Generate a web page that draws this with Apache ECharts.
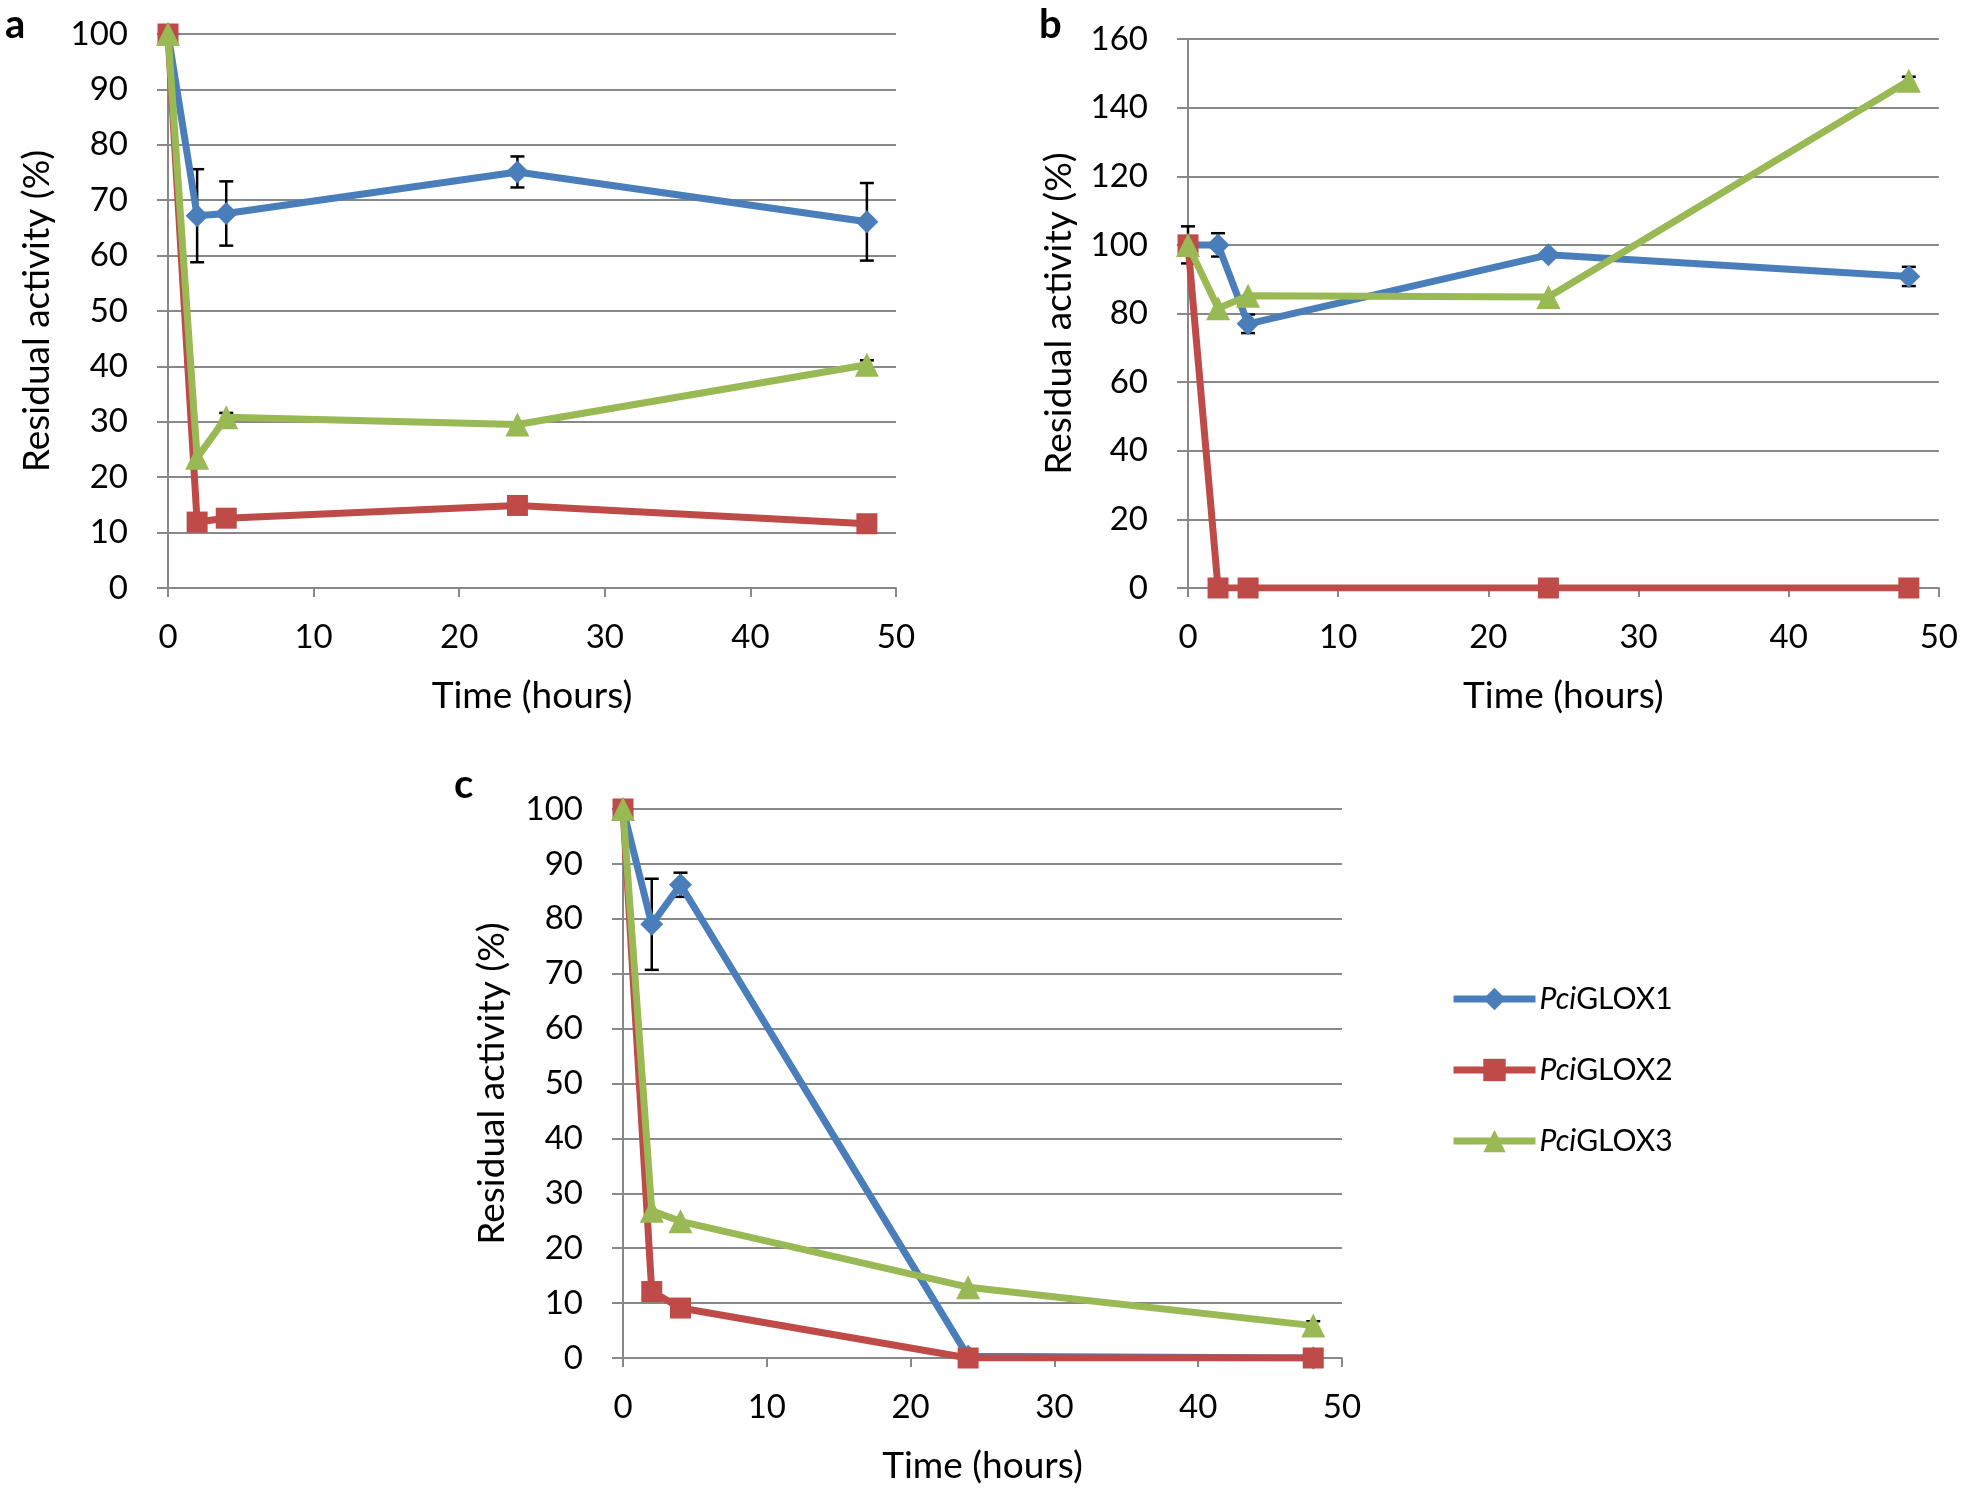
<!DOCTYPE html>
<html>
<head>
<meta charset="utf-8">
<script src="https://cdn.jsdelivr.net/npm/echarts@6/dist/echarts.min.js"></script>
<style>
html,body{margin:0;padding:0;background:#fff;}
#chart{width:1961px;height:1491px;}
</style>
</head>
<body>
<div id="chart"></div>
<script>
// ---- Data ----
const times = [0, 2, 4, 24, 48];
const seriesNames = ['PciGLOX1', 'PciGLOX2', 'PciGLOX3'];

// Panel a
const a_glox1 = [100, 67.2, 67.6, 75.1, 66.1];
const a_glox2 = [100, 11.9, 12.6, 14.9, 11.6];
const a_glox3 = [100, 23.5, 30.8, 29.5, 40.3];
const a_err1 = [0, 8.4, 5.8, 2.8, 7.0];
const a_err3 = [0, 1.0, 0.8, 0, 0.8];

// Panel b
const b_glox1 = [100, 100, 77, 97.1, 90.8];
const b_glox2 = [100, 0, 0, 0, 0];
const b_glox3 = [100, 81.5, 85.2, 84.8, 147.8];
const b_err1 = [5.4, 3.4, 2.7, 0, 2.8];
const b_err3 = [0, 0, 0, 0, 1.2];

// Panel c
const c_glox1 = [100, 79, 86.2, 0.3, 0];
const c_glox2 = [100, 12.1, 9.1, 0, 0];
const c_glox3 = [100, 26.8, 24.9, 12.9, 5.9];
const c_err1 = [0, 8.3, 2.2, 0, 0];
const c_err3 = [0, 0, 0, 0, 0.8];

// axis settings
const yMaxA = 100, yStepA = 10;
const yMaxB = 160, yStepB = 20;
const yMaxC = 100, yStepC = 10;
const xMax = 50, xStep = 10;

// ---- Styling ----
const COLORS = ['#4A7EBB', '#BE4B48', '#98B954'];
const SYMBOLS = ['diamond', 'rect', 'triangle'];
const SYMSIZE = [23, 21, 24];
const FONT = 'Lato, "Open Sans", sans-serif';
const GREY = '#888888';

const grids = [
  {left: 168, top: 34, width: 728, height: 554},
  {left: 1188, top: 39, width: 752, height: 549},
  {left: 623, top: 809, width: 719, height: 549}
];

function xAxisFor(i){
  return {
    type: 'value', gridIndex: i, min: 0, max: xMax, interval: xStep,
    name: 'Time (hours)', nameLocation: 'middle', nameGap: 90,
    nameTextStyle: {fontFamily: FONT, fontSize: 37, color: '#000'},
    axisLine: {show: true, onZero: false, lineStyle: {color: GREY, width: 2}},
    axisTick: {show: true, inside: false, length: 9, lineStyle: {color: GREY, width: 2}},
    axisLabel: {fontFamily: FONT, fontSize: 33, color: '#000', margin: 33},
    splitLine: {show: false}
  };
}
function yAxisFor(i, max, step, gap){
  return {
    type: 'value', gridIndex: i, min: 0, max: max, interval: step,
    name: 'Residual activity (%)', nameLocation: 'middle', nameGap: gap,
    nameTextStyle: {fontFamily: FONT, fontSize: 37, color: '#000'},
    axisLine: {show: true, lineStyle: {color: GREY, width: 2}},
    axisTick: {show: true, inside: false, length: 11, lineStyle: {color: GREY, width: 2}},
    axisLabel: {fontFamily: FONT, fontSize: 33, color: '#000', margin: 40},
    splitLine: {show: true, lineStyle: {color: GREY, width: 2}}
  };
}

function lineSeries(k, gi, vals){
  return {
    name: seriesNames[k], type: 'line', xAxisIndex: gi, yAxisIndex: gi,
    data: times.map((t, j) => [t, vals[j]]),
    symbol: SYMBOLS[k], symbolSize: SYMSIZE[k], showSymbol: true,
    lineStyle: {color: COLORS[k], width: 7},
    itemStyle: {color: COLORS[k]},
    z: 3 + k, animation: false
  };
}
function errSeries(gi, vals, errs, z){
  const d = [];
  times.forEach((t, j) => { if (errs[j] > 0) d.push([t, vals[j] - errs[j], vals[j] + errs[j]]); });
  return {
    type: 'custom', xAxisIndex: gi, yAxisIndex: gi, z: z, animation: false,
    data: d,
    renderItem: function(params, api){
      const lo = api.coord([api.value(0), api.value(1)]);
      const hi = api.coord([api.value(0), api.value(2)]);
      const w = 7;
      const st = {stroke: '#000', lineWidth: 2.5};
      return {type: 'group', children: [
        {type: 'line', shape: {x1: lo[0], y1: lo[1], x2: hi[0], y2: hi[1]}, style: st},
        {type: 'line', shape: {x1: lo[0]-w, y1: lo[1], x2: lo[0]+w, y2: lo[1]}, style: st},
        {type: 'line', shape: {x1: hi[0]-w, y1: hi[1], x2: hi[0]+w, y2: hi[1]}, style: st}
      ]};
    }
  };
}

const chart = echarts.init(document.getElementById('chart'), null, {renderer: 'canvas'});
const letterStyle = {fontFamily: FONT, fontSize: 40, fontWeight: 'bold', color: '#000'};
chart.setOption({
  backgroundColor: '#fff',
  animation: false,
  title: [
    {text: 'a', left: 0, top: 0, textStyle: letterStyle},
    {text: 'b', left: 1034, top: 0, textStyle: letterStyle},
    {text: 'c', left: 449, top: 760, textStyle: letterStyle}
  ],
  grid: grids,
  xAxis: [xAxisFor(0), xAxisFor(1), xAxisFor(2)],
  yAxis: [yAxisFor(0, yMaxA, yStepA, 112), yAxisFor(1, yMaxB, yStepB, 110), yAxisFor(2, yMaxC, yStepC, 112)],
  legend: {
    orient: 'vertical', left: 1445, top: 979, itemGap: 41,
    itemWidth: 82, itemHeight: 28,
    lineStyle: {width: 7},
    data: seriesNames,
    formatter: function(n){ return '{i|Pci}' + n.slice(3); },
    textStyle: {fontFamily: FONT, fontSize: 30, color: '#000', padding: [0,0,0,-1],
      rich: {i: {fontFamily: FONT, fontSize: 30, fontStyle: 'italic', color: '#000'}}}
  },
  series: [
    errSeries(0, a_glox1, a_err1, 2),
    lineSeries(0, 0, a_glox1),
    lineSeries(1, 0, a_glox2),
    lineSeries(2, 0, a_glox3),
    errSeries(0, a_glox3, a_err3, 2),
    errSeries(1, b_glox1, b_err1, 2),
    lineSeries(0, 1, b_glox1),
    lineSeries(1, 1, b_glox2),
    lineSeries(2, 1, b_glox3),
    errSeries(1, b_glox3, b_err3, 2),
    errSeries(2, c_glox1, c_err1, 2),
    lineSeries(0, 2, c_glox1),
    lineSeries(1, 2, c_glox2),
    lineSeries(2, 2, c_glox3),
    errSeries(2, c_glox3, c_err3, 2)
  ]
});
</script>
</body>
</html>
